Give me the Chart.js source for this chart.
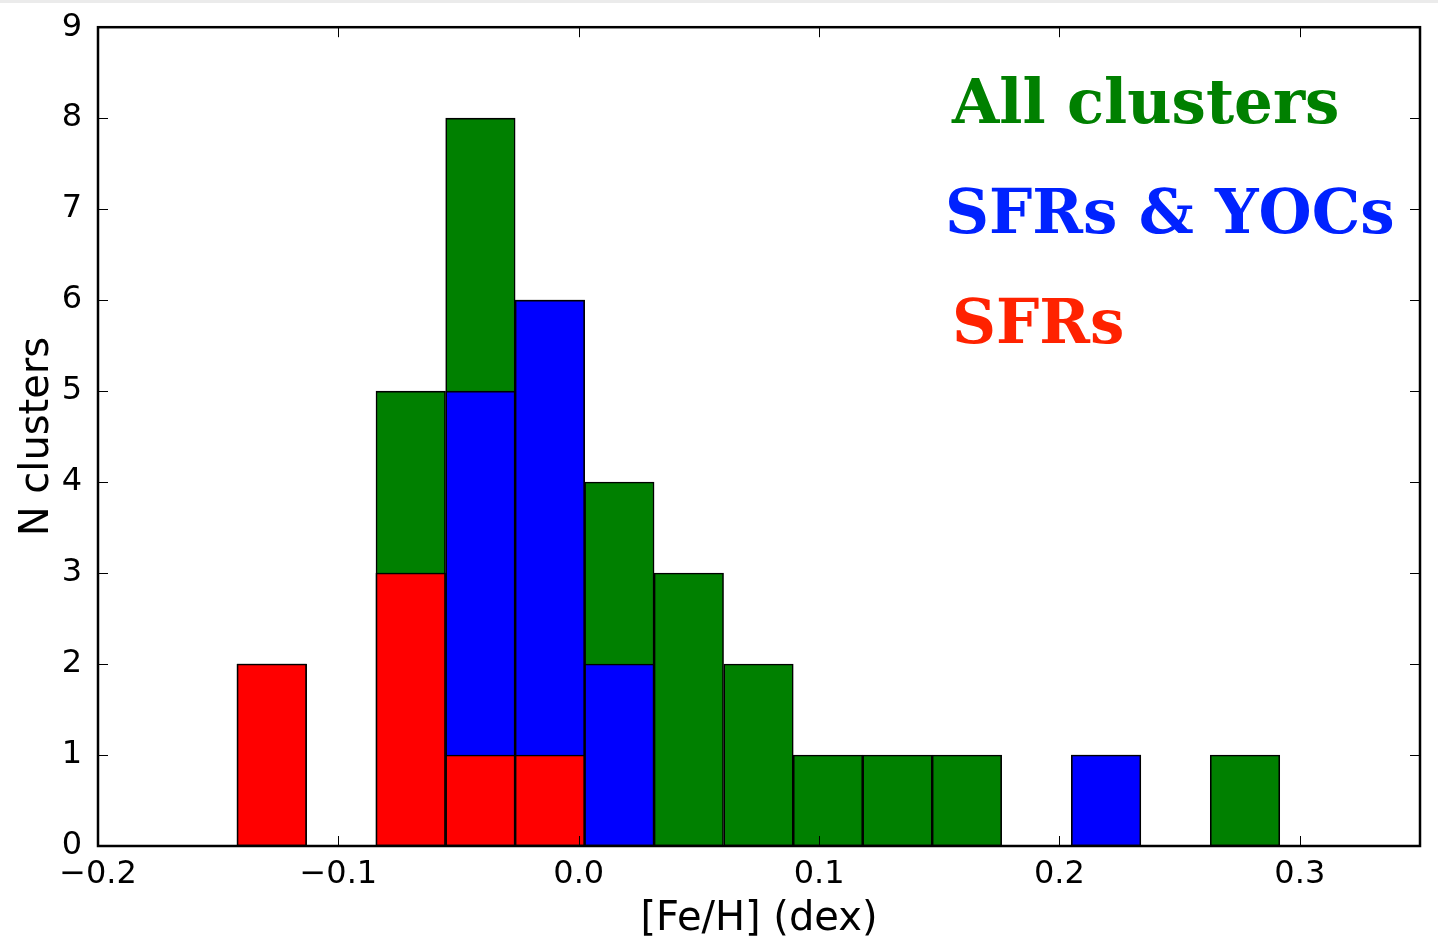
<!DOCTYPE html>
<html lang="en">
<head>
    <meta charset="UTF-8">
    <title>[Fe/H] distribution of clusters</title>
    <script src="https://cdn.jsdelivr.net/npm/chart.js"></script>
    <style>
        body {
            margin: 0;
            background: #fff;
        }
        #strip {
            position: absolute;
            left: 0;
            top: 0;
            width: 1438px;
            height: 3px;
            background: #ebebeb;
            z-index: 2;
        }
        #wrap {
            position: relative;
            width: 1438px;
            height: 937px;
        }
    </style>
</head>
<body>

    <div id="strip"></div>
    <div id="wrap"><canvas id="fehChart"></canvas></div>

    <script>
        // bin centres of the histogram, [Fe/H] in dex
        const binCenters = [-0.1277, -0.0988, -0.0699, -0.0409, -0.0120, 0.0169, 0.0458, 0.0748,
                            0.1037, 0.1326, 0.1615, 0.1905, 0.2194, 0.2483, 0.2772];
        const allClusters = [2, 0, 5, 8, 6, 4, 3, 2, 1, 1, 1, 0, 1, 0, 1];
        const sfrsYocs    = [2, 0, 3, 5, 6, 2, 0, 0, 0, 0, 0, 0, 1, 0, 0];
        const sfrs        = [2, 0, 3, 1, 1, 0, 0, 0, 0, 0, 0, 0, 0, 0, 0];

        const xTicks = [-0.2, -0.1, 0.0, 0.1, 0.2, 0.3];
        const yTicks = [0, 1, 2, 3, 4, 5, 6, 7, 8, 9];

        const labels = [
            { text: 'All clusters', color: '#008000' },
            { text: 'SFRs & YOCs', color: '#0022ff' },
            { text: 'SFRs', color: '#ff2200' }
        ];

        function toPoints(counts) {
            return binCenters
                .map((x, i) => ({ x: x, y: counts[i] }))
                .filter(p => p.y > 0);
        }

        function fmtTick(v) {
            const s = Math.abs(v).toFixed(1);
            return v < -1e-9 ? '\u2212' + s : s;
        }

        // matplotlib-like frame with inward ticks on all four sides
        const framePlugin = {
            id: 'frame',
            afterDatasetsDraw(chart) {
                const { ctx, chartArea: a, scales } = chart;
                ctx.save();
                ctx.strokeStyle = '#000';
                ctx.lineWidth = 1;
                xTicks.forEach(v => {
                    const px = Math.round(scales.x.getPixelForValue(v)) + 0.5;
                    ctx.beginPath();
                    ctx.moveTo(px, a.bottom); ctx.lineTo(px, a.bottom - 10);
                    ctx.moveTo(px, a.top); ctx.lineTo(px, a.top + 10);
                    ctx.stroke();
                });
                yTicks.forEach(v => {
                    const py = Math.round(scales.y.getPixelForValue(v)) + 0.5;
                    ctx.beginPath();
                    ctx.moveTo(a.left, py); ctx.lineTo(a.left + 10, py);
                    ctx.moveTo(a.right, py); ctx.lineTo(a.right - 10, py);
                    ctx.stroke();
                });
                ctx.lineWidth = 2.5;
                ctx.strokeRect(a.left, a.top, a.right - a.left, a.bottom - a.top);
                ctx.restore();
            }
        };

        const labelPlugin = {
            id: 'seriesLabels',
            afterDraw(chart) {
                const ctx = chart.ctx;
                ctx.save();
                ctx.font = 'bold 61px "DejaVu Serif", serif';
                ctx.textBaseline = 'alphabetic';
                ctx.textAlign = 'left';
                const xs = [952, 945, 952];
                const ys = [123, 233, 343];
                labels.forEach((l, i) => {
                    ctx.fillStyle = l.color;
                    ctx.fillText(l.text, xs[i], ys[i]);
                });
                ctx.restore();
            }
        };

        Chart.defaults.color = '#000';
        Chart.defaults.font.family = '"DejaVu Sans", sans-serif';

        const barStyle = {
            borderColor: '#000',
            borderWidth: 1.6,
            borderSkipped: false,
            barPercentage: 1.0,
            categoryPercentage: 1.0,
            grouped: false
        };

        const ctx = document.getElementById('fehChart').getContext('2d');
        const fehChart = new Chart(ctx, {
            type: 'bar',
            data: {
                datasets: [
                    Object.assign({ label: 'SFRs', data: toPoints(sfrs), backgroundColor: '#ff0000' }, barStyle),
                    Object.assign({ label: 'SFRs & YOCs', data: toPoints(sfrsYocs), backgroundColor: '#0000ff' }, barStyle),
                    Object.assign({ label: 'All clusters', data: toPoints(allClusters), backgroundColor: '#008000' }, barStyle)
                ]
            },
            options: {
                responsive: true,
                maintainAspectRatio: false,
                animation: false,
                layout: {
                    padding: { left: 0, right: 18, top: 27, bottom: 0 }
                },
                plugins: {
                    legend: { display: false },
                    tooltip: { enabled: false }
                },
                scales: {
                    x: {
                        type: 'linear',
                        min: -0.2,
                        max: 0.35,
                        offset: false,
                        grid: { display: false, offset: false },
                        border: { display: false },
                        afterBuildTicks(scale) {
                            scale.ticks = xTicks.map(v => ({ value: v }));
                        },
                        afterFit(scale) {
                            scale.height = 91;
                        },
                        ticks: {
                            font: { size: 32 },
                            padding: 1,
                            maxRotation: 0,
                            callback: v => fmtTick(v)
                        },
                        title: {
                            display: true,
                            text: '[Fe/H] (dex)',
                            font: { size: 40 },
                            padding: { top: 0, bottom: -7 }
                        }
                    },
                    y: {
                        min: 0,
                        max: 9,
                        grid: { display: false },
                        border: { display: false },
                        afterBuildTicks(scale) {
                            scale.ticks = yTicks.map(v => ({ value: v }));
                        },
                        afterFit(scale) {
                            scale.width = 98;
                        },
                        ticks: {
                            font: { size: 32 },
                            padding: 8
                        },
                        title: {
                            display: true,
                            text: 'N clusters',
                            font: { size: 40 },
                            padding: { top: 14, bottom: 0 }
                        }
                    }
                }
            },
            plugins: [framePlugin, labelPlugin]
        });
    </script>

</body>
</html>
